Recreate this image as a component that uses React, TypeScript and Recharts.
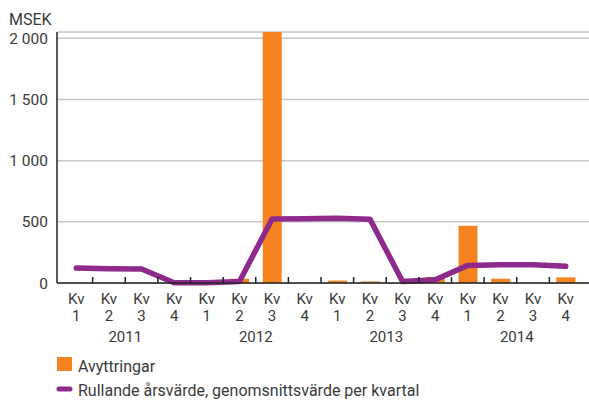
import React from "react";
import {
  ComposedChart,
  Bar,
  Line,
  XAxis,
  YAxis,
  CartesianGrid,
} from "recharts";

// quarters 2011 Kv1 .. 2014 Kv4
const years = ["2011", "2012", "2013", "2014"];
const quarters = ["1", "2", "3", "4"];
const divestments = [0, 0, 0, 0, 0, 35, 2052, 0, 20, 13, 0, 50, 468, 35, 0, 46];
const rollingAvg = [122, 117, 115, 2, 2, 12, 523, 525, 530, 522, 13, 27, 144, 149, 149, 136];
const yTicks = [0, 500, 1000, 1500, 2000];

const ORANGE = "#F58420";
const PURPLE = "#8E2A8C";
const TEXT = "#3a3a3a";
const FONT = "Roboto, sans-serif";

const WIDTH = 589;
const HEIGHT = 362;
const Y_AXIS_W = 57;
const PAD_L = 3;
const PAD_R = 7;
const BAND = (WIDTH - Y_AXIS_W - PAD_L - PAD_R) / (years.length * quarters.length);

const data = divestments.map((v, i) => ({
  key: `${years[Math.floor(i / 4)]}-${quarters[i % 4]}`,
  avyttringar: v,
  rullande: rollingAvg[i],
}));

function QuarterTick(props: any) {
  const { x, y, index } = props;
  const q = quarters[index % 4];
  const showYear = index % 4 === 1;
  return (
    <g>
      {index < data.length - 1 && (
        <line x1={x + BAND / 2} x2={x + BAND / 2} y1={y - 6} y2={y} stroke="#222" strokeWidth={1.5} />
      )}
      <text x={x} y={y + 21} textAnchor="middle" fill={TEXT} fontSize={15} fontFamily={FONT}>
        Kv
      </text>
      <text x={x} y={y + 37.5} textAnchor="middle" fill={TEXT} fontSize={15} fontFamily={FONT}>
        {q}
      </text>
      {showYear && (
        <text x={x + BAND / 2} y={y + 58.5} textAnchor="middle" fill={TEXT} fontSize={15} fontFamily={FONT}>
          {years[Math.floor(index / 4)]}
        </text>
      )}
    </g>
  );
}

function formatY(v: number) {
  return v >= 1000 ? `${Math.floor(v / 1000)} ${String(v % 1000).padStart(3, "0")}` : String(v);
}

export default function App() {
  return (
    <div style={{ position: "absolute", left: 0, top: 0, width: WIDTH, height: 401, background: "#fff" }}>
      <ComposedChart
        width={WIDTH}
        height={HEIGHT}
        data={data}
        margin={{ top: 32, right: 0, bottom: 19, left: 0 }}
      >
        <CartesianGrid vertical={false} stroke="#c8c8c8" strokeWidth={1.5} />
        <XAxis
          dataKey="key"
          interval={0}
          height={60}
          padding={{ left: PAD_L, right: PAD_R }}
          tickLine={false}
          tickSize={0}
          tickMargin={0}
          axisLine={{ stroke: "#222", strokeWidth: 1.5 }}
          tick={<QuarterTick />}
        />
        <YAxis
          width={Y_AXIS_W}
          domain={[0, "dataMax"]}
          ticks={yTicks}
          tickFormatter={formatY}
          tickLine={false}
          tickMargin={3}
          axisLine={{ stroke: "#222", strokeWidth: 1.5 }}
          tick={{ fill: TEXT, fontSize: 15.5, fontFamily: FONT }}
        />
        <Bar dataKey="avyttringar" fill={ORANGE} barSize={19} isAnimationActive={false} />
        <Line
          dataKey="rullande"
          stroke={PURPLE}
          strokeWidth={5.5}
          strokeLinecap="round"
          strokeLinejoin="round"
          dot={false}
          activeDot={false}
          isAnimationActive={false}
        />
      </ComposedChart>
      <svg
        width={WIDTH}
        height={401}
        style={{ position: "absolute", left: 0, top: 0, pointerEvents: "none" }}
      >
        <text x={9} y={25} fill={TEXT} fontSize={16} fontFamily={FONT}>
          MSEK
        </text>
        <rect x={57} y={357} width={15} height={14} fill={ORANGE} />
        <text x={78} y={372} fill={TEXT} fontSize={16} fontFamily={FONT}>
          Avyttringar
        </text>
        <line x1={59} x2={70} y1={389} y2={389} stroke={PURPLE} strokeWidth={5} strokeLinecap="round" />
        <text x={78} y={395.5} fill={TEXT} fontSize={16} fontFamily={FONT}>
          Rullande årsvärde, genomsnittsvärde per kvartal
        </text>
      </svg>
    </div>
  );
}
